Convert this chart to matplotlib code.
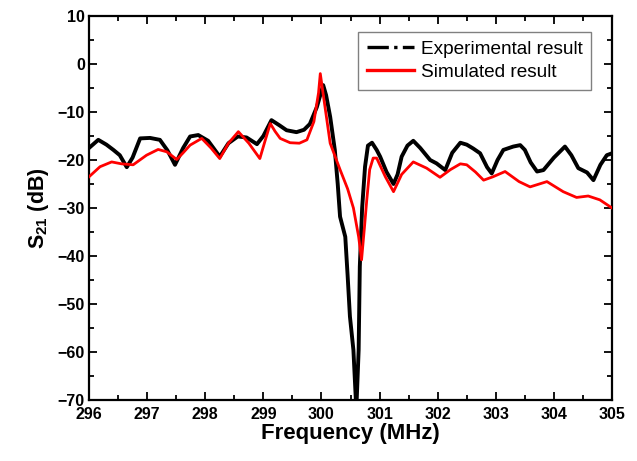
import matplotlib
matplotlib.use("Agg")
import matplotlib.pyplot as plt
from matplotlib.lines import Line2D
from matplotlib.ticker import MultipleLocator

plt.rcParams['font.family'] = ['Liberation Sans', 'DejaVu Sans']
plt.rcParams['mathtext.fontset'] = 'custom'
plt.rcParams['mathtext.rm'] = 'Liberation Sans'
plt.rcParams['mathtext.bf'] = 'Liberation Sans:bold'

# experimental S21
exp_f = [296.00, 296.16, 296.30, 296.42, 296.53, 296.65, 296.75, 296.88, 297.05, 297.22,
         297.35, 297.48, 297.62, 297.74, 297.88, 298.05, 298.25, 298.40, 298.56, 298.71,
         298.89, 299.00, 299.14, 299.28, 299.40, 299.57, 299.70, 299.80, 299.92, 300.03,
         300.08, 300.15, 300.23, 300.28, 300.32, 300.41, 300.45, 300.49, 300.55, 300.60,
         300.64, 300.66, 300.70, 300.75, 300.80, 300.87, 300.95, 301.01, 301.12, 301.24,
         301.31, 301.38, 301.48, 301.58, 301.70, 301.87, 301.98, 302.13, 302.25, 302.39,
         302.50, 302.61, 302.73, 302.85, 302.93, 303.03, 303.13, 303.30, 303.42, 303.50,
         303.60, 303.71, 303.82, 304.00, 304.19, 304.30, 304.42, 304.57, 304.68, 304.80,
         304.91, 305.00]
exp_db = [-17.5, -15.8, -16.8, -17.9, -19.0, -21.5, -19.5, -15.5, -15.4, -15.8,
          -18.0, -21.0, -17.5, -15.1, -14.8, -16.0, -19.3, -16.5, -15.1, -15.3,
          -16.7, -15.0, -11.7, -12.8, -13.8, -14.2, -13.7, -12.5, -9.0, -4.4,
          -6.5, -11.0, -17.9, -25.0, -31.8, -36.0, -44.0, -52.6, -59.6, -72.0,
          -59.6, -42.2, -30.0, -21.4, -17.0, -16.4, -17.9, -19.3, -22.5, -25.0,
          -23.0, -19.3, -17.0, -16.0, -17.5, -20.0, -20.7, -22.1, -18.5, -16.4,
          -16.8, -17.6, -18.6, -21.5, -22.8, -20.0, -17.9, -17.2, -16.9, -17.9,
          -20.5, -22.4, -22.1, -19.5, -17.2, -19.0, -21.7, -22.6, -24.2, -21.0,
          -19.0, -18.6]

# simulated S21
sim_f = [296.00, 296.19, 296.39, 296.56, 296.76, 296.99, 297.19, 297.34, 297.51, 297.62,
         297.74, 297.94, 298.10, 298.25, 298.40, 298.57, 298.75, 298.94, 299.03, 299.12,
         299.20, 299.29, 299.46, 299.62, 299.75, 299.87, 299.95, 299.98, 300.05, 300.15,
         300.32, 300.45, 300.55, 300.64, 300.69, 300.74, 300.78, 300.83, 300.89, 300.95,
         301.10, 301.24, 301.38, 301.58, 301.81, 302.04, 302.22, 302.39, 302.50, 302.65,
         302.79, 302.95, 303.16, 303.40, 303.59, 303.88, 304.16, 304.39, 304.59, 304.79,
         305.00]
sim_db = [-23.5, -21.4, -20.4, -20.8, -21.0, -19.0, -17.8, -18.3, -19.9, -18.5,
          -16.9, -15.5, -17.5, -19.7, -16.5, -14.1, -16.5, -19.7, -16.0, -12.4,
          -14.0, -15.5, -16.4, -16.5, -15.8, -12.0, -6.0, -2.0, -8.0, -16.5,
          -22.0, -26.0, -30.0, -36.0, -40.8, -34.0, -28.3, -22.0, -19.6, -19.6,
          -23.5, -26.6, -23.0, -20.4, -21.7, -23.6, -22.0, -20.8, -21.0, -22.5,
          -24.2, -23.5, -22.4, -24.5, -25.6, -24.5, -26.6, -27.8, -27.5, -28.3,
          -30.0]

fig = plt.figure(figsize=(6.37, 4.61), dpi=100)
ax = fig.add_axes([0.1397, 0.1323, 0.8211, 0.833])

ax.plot(exp_f, exp_db, color='black', lw=2.8, zorder=2)
ax.plot(sim_f, sim_db, color='red', lw=2.0, zorder=3)

ax.set_xlim(296, 305)
ax.set_ylim(-70, 10)
ax.xaxis.set_major_locator(MultipleLocator(1))
ax.xaxis.set_minor_locator(MultipleLocator(0.5))
ax.yaxis.set_major_locator(MultipleLocator(10))
ax.yaxis.set_minor_locator(MultipleLocator(5))
ax.tick_params(which='both', direction='in', top=True, right=True, width=1.3)
ax.tick_params(which='major', length=6, labelsize=11.5)
ax.tick_params(axis='x', which='major', pad=5)
ax.tick_params(axis='y', which='major', pad=3)
ax.tick_params(which='minor', length=3.5)
for lab in ax.get_xticklabels() + ax.get_yticklabels():
    lab.set_fontweight('bold')
for s in ax.spines.values():
    s.set_linewidth(1.6)

ax.set_xlabel('Frequency (MHz)', fontsize=16, fontweight='bold', labelpad=1)
ax.set_ylabel(r'$\mathbf{S_{21}}$ (dB)', fontsize=15.5, fontweight='bold', labelpad=5)

handles = [Line2D([], [], color='black', lw=2.4, ls='-.'),
           Line2D([], [], color='red', lw=2.4)]
leg = ax.legend(handles, ['Experimental result', 'Simulated result'],
                loc='upper right', bbox_to_anchor=(0.96, 0.958), borderaxespad=0,
                fontsize=13.7, fancybox=False, framealpha=1, edgecolor='gray',
                handlelength=2.5, handletextpad=0.35, labelspacing=0.3,
                borderpad=0.45)
leg.get_frame().set_linewidth(1.0)

fig.savefig('out.png', dpi=100)
